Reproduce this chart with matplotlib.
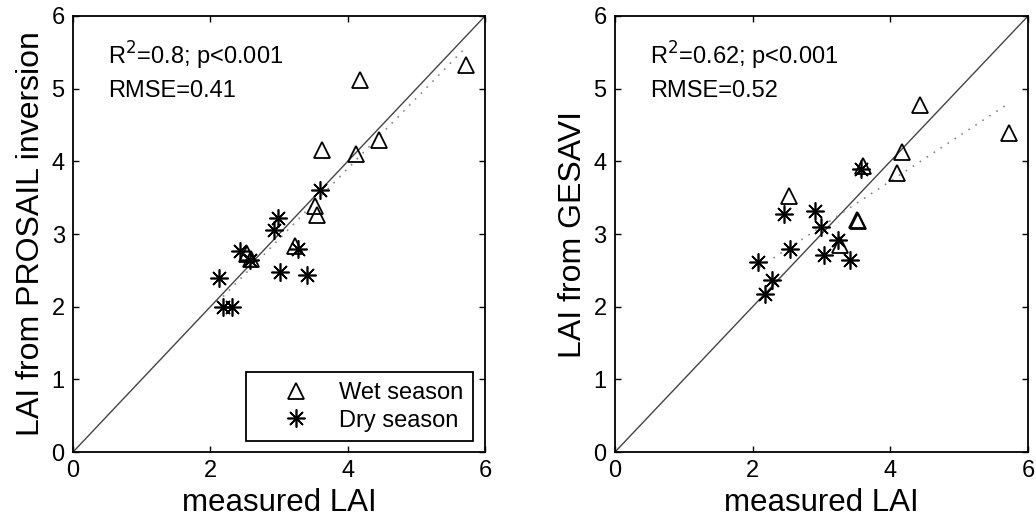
import matplotlib
matplotlib.use("Agg")
import numpy as np
import matplotlib.pyplot as plt

plt.rcParams['font.family'] = ['Liberation Sans', 'DejaVu Sans']

# ------------------------------
# Data
# ------------------------------
# left panel : PROSAIL inversion
wet_x_prosail = [5.72, 4.18, 4.46, 4.12, 3.62, 3.52, 3.55, 3.23, 2.53, 2.59]
wet_y_prosail = [5.33, 5.12, 4.29, 4.10, 4.16, 3.38, 3.26, 2.83, 2.72, 2.65]
dry_x_prosail = [3.60, 2.99, 2.92, 2.43, 2.58, 2.13, 2.19, 2.31, 3.01, 3.40, 3.27]
dry_y_prosail = [3.61, 3.22, 3.05, 2.76, 2.64, 2.40, 2.00, 1.99, 2.48, 2.44, 2.80]

# right panel : GESAVI
wet_x_gesavi = [5.73, 4.43, 4.17, 4.09, 3.61, 2.53, 3.51, 3.53, 3.27]
wet_y_gesavi = [4.39, 4.78, 4.13, 3.84, 3.93, 3.52, 3.19, 3.18, 2.85]
dry_x_gesavi = [3.58, 2.46, 2.91, 3.00, 2.54, 2.08, 2.28, 2.18, 3.03, 3.41, 3.24]
dry_y_gesavi = [3.90, 3.28, 3.31, 3.10, 2.80, 2.62, 2.37, 2.18, 2.71, 2.64, 2.92]

# regression lines (slope, intercept, x range)
fit_prosail = (0.97, 0.02, 2.10, 5.70)
fit_gesavi = (0.623, 1.235, 2.10, 5.70)

stats_prosail = ["R$^2$=0.8; p<0.001", "RMSE=0.41"]
stats_gesavi = ["R$^2$=0.62; p<0.001", "RMSE=0.52"]

ylabels = ["LAI from PROSAIL inversion", "LAI from GESAVI"]
ticks_x = [0, 2, 4, 6]
ticks_y = [0, 1, 2, 3, 4, 5, 6]

FS = 17
ASTER = (8, 2, 0)

fig = plt.figure(figsize=(10.36, 5.21), dpi=100)
ax1 = fig.add_axes([0.0705, 0.1324, 0.3977, 0.8369])
ax2 = fig.add_axes([0.5936, 0.1324, 0.3987, 0.8369])

panels = [
    (ax1, wet_x_prosail, wet_y_prosail, dry_x_prosail, dry_y_prosail, fit_prosail, stats_prosail, ylabels[0]),
    (ax2, wet_x_gesavi, wet_y_gesavi, dry_x_gesavi, dry_y_gesavi, fit_gesavi, stats_gesavi, ylabels[1]),
]

for ax, wx, wy, dx, dy, fit, stats, ylab in panels:
    # 1:1 line
    ax.plot([0, 6], [0, 6], color='#444444', linewidth=1.0, zorder=1)
    # regression line
    slope, icpt, x0, x1 = fit
    xf = np.array([x0, x1])
    ax.plot(xf, slope * xf + icpt, linestyle=(0, (1, 4)), color='#888888', linewidth=1.2, zorder=1)

    ax.plot(wx, wy, linestyle='none', marker='^', markersize=11, markerfacecolor='none',
            markeredgecolor='black', markeredgewidth=1.3, label='Wet season', zorder=3)
    ax.plot(dx, dy, linestyle='none', marker=ASTER, markersize=13, markeredgecolor='black',
            markeredgewidth=1.2, label='Dry season', zorder=3)

    ax.text(0.085, 0.888, stats[0], transform=ax.transAxes, fontsize=FS, va='baseline')
    ax.text(0.085, 0.814, stats[1], transform=ax.transAxes, fontsize=FS, va='baseline')

    ax.set_xlim(0, 6)
    ax.set_ylim(0, 6)
    ax.set_xticks(ticks_x)
    ax.set_yticks(ticks_y)
    ax.tick_params(direction='in', top=True, right=True, length=4, width=1,
                   labelsize=FS, pad=6)
    for s in ax.spines.values():
        s.set_linewidth(1.3)
    ax.set_xlabel("measured LAI", fontsize=22.5)
    ax.set_ylabel(ylab, fontsize=23)

leg = ax1.legend(loc='lower right', bbox_to_anchor=(0.971, 0.025), borderaxespad=0,
                 fontsize=FS, fancybox=False, framealpha=1, edgecolor='black',
                 handlelength=3.4, handletextpad=0.15, borderpad=0.4, labelspacing=0.25)
leg.get_frame().set_linewidth(1.3)

plt.savefig("out.png", dpi=100)
